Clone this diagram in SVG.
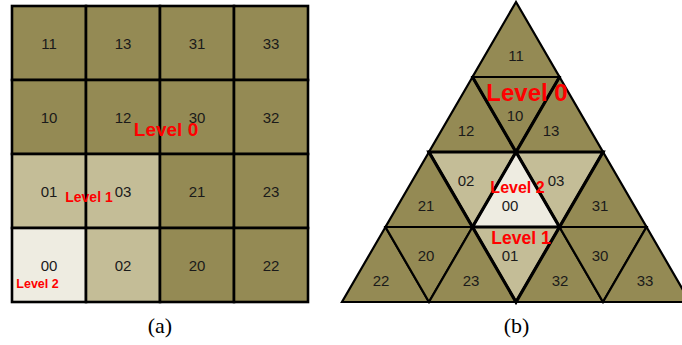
<svg xmlns="http://www.w3.org/2000/svg" width="682" height="345" viewBox="0 0 682 345">
<style>
.d{fill:#948A54}
.m{fill:#C4BD97}
.l{fill:#EEECE1}
.c{stroke:#000;stroke-width:2.6}
.t{stroke:#000;stroke-width:2.2;stroke-linejoin:miter}
.n{font-family:"Liberation Sans",Arial,sans-serif;font-size:15px;fill:#1a1a1a;text-anchor:middle}
.r{font-family:"Liberation Sans",Arial,sans-serif;font-weight:bold;fill:#FF0000;text-anchor:middle}
.cap{font-family:"Liberation Serif","Times New Roman",serif;font-size:22px;fill:#000;text-anchor:middle}
.thick{fill:none;stroke:#000;stroke-width:3.2;stroke-linejoin:miter}
</style>
<rect width="682" height="345" fill="#fff"/>
<!-- (a) grid -->
<g id="a11"><rect class="d c" x="12" y="6" width="74" height="74"/><text class="n" x="49" y="48.5">11</text></g>
<g id="a13"><rect class="d c" x="86" y="6" width="74" height="74"/><text class="n" x="123" y="48.5">13</text></g>
<g id="a31"><rect class="d c" x="160" y="6" width="74" height="74"/><text class="n" x="197" y="48.5">31</text></g>
<g id="a33"><rect class="d c" x="234" y="6" width="74" height="74"/><text class="n" x="271" y="48.5">33</text></g>
<g id="a10"><rect class="d c" x="12" y="80" width="74" height="74"/><text class="n" x="49" y="122.5">10</text></g>
<g id="a12"><rect class="d c" x="86" y="80" width="74" height="74"/><text class="n" x="123" y="122.5">12</text></g>
<g id="a30"><rect class="d c" x="160" y="80" width="74" height="74"/><text class="n" x="197" y="122.5">30</text></g>
<g id="a32"><rect class="d c" x="234" y="80" width="74" height="74"/><text class="n" x="271" y="122.5">32</text></g>
<g id="a01"><rect class="m c" x="12" y="154" width="74" height="74"/><text class="n" x="49" y="196.5">01</text></g>
<g id="a03"><rect class="m c" x="86" y="154" width="74" height="74"/><text class="n" x="123" y="196.5">03</text></g>
<g id="a21"><rect class="d c" x="160" y="154" width="74" height="74"/><text class="n" x="197" y="196.5">21</text></g>
<g id="a23"><rect class="d c" x="234" y="154" width="74" height="74"/><text class="n" x="271" y="196.5">23</text></g>
<g id="a00"><rect class="l c" x="12" y="228" width="74" height="74"/><text class="n" x="49" y="270.5">00</text></g>
<g id="a02"><rect class="m c" x="86" y="228" width="74" height="74"/><text class="n" x="123" y="270.5">02</text></g>
<g id="a20"><rect class="d c" x="160" y="228" width="74" height="74"/><text class="n" x="197" y="270.5">20</text></g>
<g id="a22"><rect class="d c" x="234" y="228" width="74" height="74"/><text class="n" x="271" y="270.5">22</text></g>
<g id="a-labels">
<text class="r" x="166" y="136" font-size="19">Level 0</text>
<text class="r" x="89" y="202" font-size="14">Level 1</text>
<text class="r" x="37.5" y="288" font-size="12.5">Level 2</text>
<text class="cap" x="160" y="333">(a)</text>
</g>
<!-- (b) triangle -->
<g id="b11"><polygon class="d t" points="516,2 472.5,77 559.5,77"/><text class="n" x="516" y="60.5">11</text></g>
<g id="b12"><polygon class="d t" points="472.5,77 429,152 516,152"/><text class="n" x="466" y="135.5">12</text></g>
<g id="b10"><polygon class="d t" points="472.5,77 559.5,77 516,152"/><text class="n" x="515" y="120.5">10</text></g>
<g id="b13"><polygon class="d t" points="559.5,77 516,152 603,152"/><text class="n" x="551" y="135.5">13</text></g>
<g id="b02"><polygon class="m t" points="429,152 516,152 472.5,227"/><text class="n" x="466" y="185.5">02</text></g>
<g id="b03"><polygon class="m t" points="516,152 603,152 559.5,227"/><text class="n" x="556" y="185.5">03</text></g>
<g id="b00"><polygon class="l t" points="516,152 472.5,227 559.5,227"/><text class="n" x="510" y="210.5">00</text></g>
<g id="b01"><polygon class="m t" points="472.5,227 559.5,227 516,302"/><text class="n" x="510" y="260.5">01</text></g>
<g id="b21"><polygon class="d t" points="429,152 385.5,227 472.5,227"/><text class="n" x="426" y="210.5">21</text></g>
<g id="b22"><polygon class="d t" points="385.5,227 342,302 429,302"/><text class="n" x="381" y="285.5">22</text></g>
<g id="b20"><polygon class="d t" points="385.5,227 472.5,227 429,302"/><text class="n" x="426" y="260.5">20</text></g>
<g id="b23"><polygon class="d t" points="472.5,227 429,302 516,302"/><text class="n" x="471" y="285.5">23</text></g>
<g id="b31"><polygon class="d t" points="603,152 559.5,227 646.5,227"/><text class="n" x="600" y="210.5">31</text></g>
<g id="b32"><polygon class="d t" points="559.5,227 516,302 603,302"/><text class="n" x="560" y="285.5">32</text></g>
<g id="b30"><polygon class="d t" points="559.5,227 646.5,227 603,302"/><text class="n" x="600" y="260.5">30</text></g>
<g id="b33"><polygon class="d t" points="646.5,227 603,302 690,302"/><text class="n" x="645" y="285.5">33</text></g>
<g id="connectors">
<polygon class="thick" points="429,152 603,152 516,302"/>
<polygon class="thick" points="516,152 472.5,227 559.5,227"/>
<polyline class="thick" points="472.5,77 516,152 559.5,77"/>
</g>
<g id="b-labels">
<text class="r" x="527" y="101" font-size="24">Level 0</text>
<text class="r" x="517.5" y="193" font-size="16">Level 2</text>
<text class="r" x="521" y="244" font-size="17.5">Level 1</text>
<text class="cap" x="516.5" y="333">(b)</text>
</g>
</svg>
